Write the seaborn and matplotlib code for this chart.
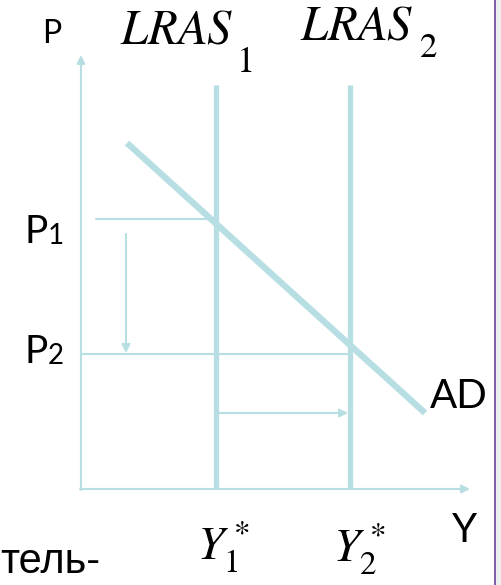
import pandas as pd
import seaborn as sns
import matplotlib.pyplot as plt

# economic diagram values (output Y, price level P)
y_star = [135, 269]          # Y1*, Y2*
p_levels = [270, 135]        # P1, P2
ad_y = [46, 344]
ad_p = [346, 76]
lras_top = 404
axis_y_max = 389
axis_p_max = 434
p1_guide_start = 15
down_arrow_y = 45
down_arrow_p = [255, 136]
right_arrow_p = 76
right_arrow_y = [137, 267]

TEAL = "#b7dfe3"
PURPLE = "#7e5fb0"

sns.set_theme(style="white")
plt.rcParams["font.family"] = ["Lato", "DejaVu Sans"]
plt.rcParams["mathtext.fontset"] = "stix"

fig = plt.figure(figsize=(5.01, 5.85), dpi=100)
ax = fig.add_axes([0, 0, 1, 1])
ax.set_xlim(-81, 420)
ax.set_ylim(-96, 489)
ax.set_axis_off()

# AD curve
ad = pd.DataFrame({"Y": ad_y, "P": ad_p})
sns.lineplot(data=ad, x="Y", y="P", ax=ax, color=TEAL, lw=4.6,
             solid_capstyle="butt", sort=False, estimator=None)

# LRAS verticals
for ys in y_star:
    lras = pd.DataFrame({"Y": [ys, ys], "P": [0, lras_top]})
    sns.lineplot(data=lras, x="Y", y="P", ax=ax, color=TEAL, lw=3.8,
                 solid_capstyle="butt", sort=False, estimator=None)

# price guides
g1 = pd.DataFrame({"Y": [p1_guide_start, y_star[0]], "P": [p_levels[0]] * 2})
g2 = pd.DataFrame({"Y": [0, y_star[1]], "P": [p_levels[1]] * 2})
for g in (g1, g2):
    sns.lineplot(data=g, x="Y", y="P", ax=ax, color=TEAL, lw=1.5,
                 sort=False, estimator=None)

arrow = dict(arrowstyle="-|>", color=TEAL, lw=1.5, mutation_scale=12,
             shrinkA=0, shrinkB=0)
# axes
ax.annotate("", xy=(0, axis_p_max), xytext=(0, -1), arrowprops=arrow)
ax.annotate("", xy=(axis_y_max, 0), xytext=(-1, 0), arrowprops=arrow)
# shifts
ax.annotate("", xy=(down_arrow_y, down_arrow_p[1]),
            xytext=(down_arrow_y, down_arrow_p[0]), arrowprops=arrow)
ax.annotate("", xy=(right_arrow_y[1], right_arrow_p),
            xytext=(right_arrow_y[0], right_arrow_p), arrowprops=arrow)

# labels
lab = dict(color="black", va="baseline")
ax.text(-29, 446, "P", fontsize=23, ha="center", **lab)
for pv, sub, base in ((p_levels[0], "1", 246), (p_levels[1], "2", 126)):
    ax.text(-57, base, "P", fontsize=28, ha="left", **lab)
    ax.text(-33, base - 1, sub, fontsize=20, ha="left", **lab)
ax.text(349, 81, "AD", fontsize=29, ha="left", **lab)
ax.text(371, -53, "Y", fontsize=29, ha="left", **lab)

# LRAS labels: italic serif with large lowered subscript
ax.text(39, 446, r"$LRAS$", fontsize=35, ha="left", **lab)
ax.text(156, 417, "1", fontsize=26, ha="left", family="STIXGeneral", **lab)
ax.text(219, 450, r"$LRAS$", fontsize=35, ha="left", **lab)
ax.text(339, 432, "2", fontsize=25, ha="left", family="STIXGeneral", **lab)

ax.text(116, -71, r"$Y_1^*$", fontsize=34, ha="left", **lab)
ax.text(252, -73, r"$Y_2^*$", fontsize=34, ha="left", **lab)
ax.text(19, -84, "тель-", fontsize=30, ha="right",
        family=["Liberation Sans", "DejaVu Sans"], **lab)

# slide border on the right
ax.axvspan(413, 415, color=PURPLE, lw=0)
ax.axvspan(415, 420, color="#eeeeee", lw=0)

fig.savefig("out.png", dpi=100)
